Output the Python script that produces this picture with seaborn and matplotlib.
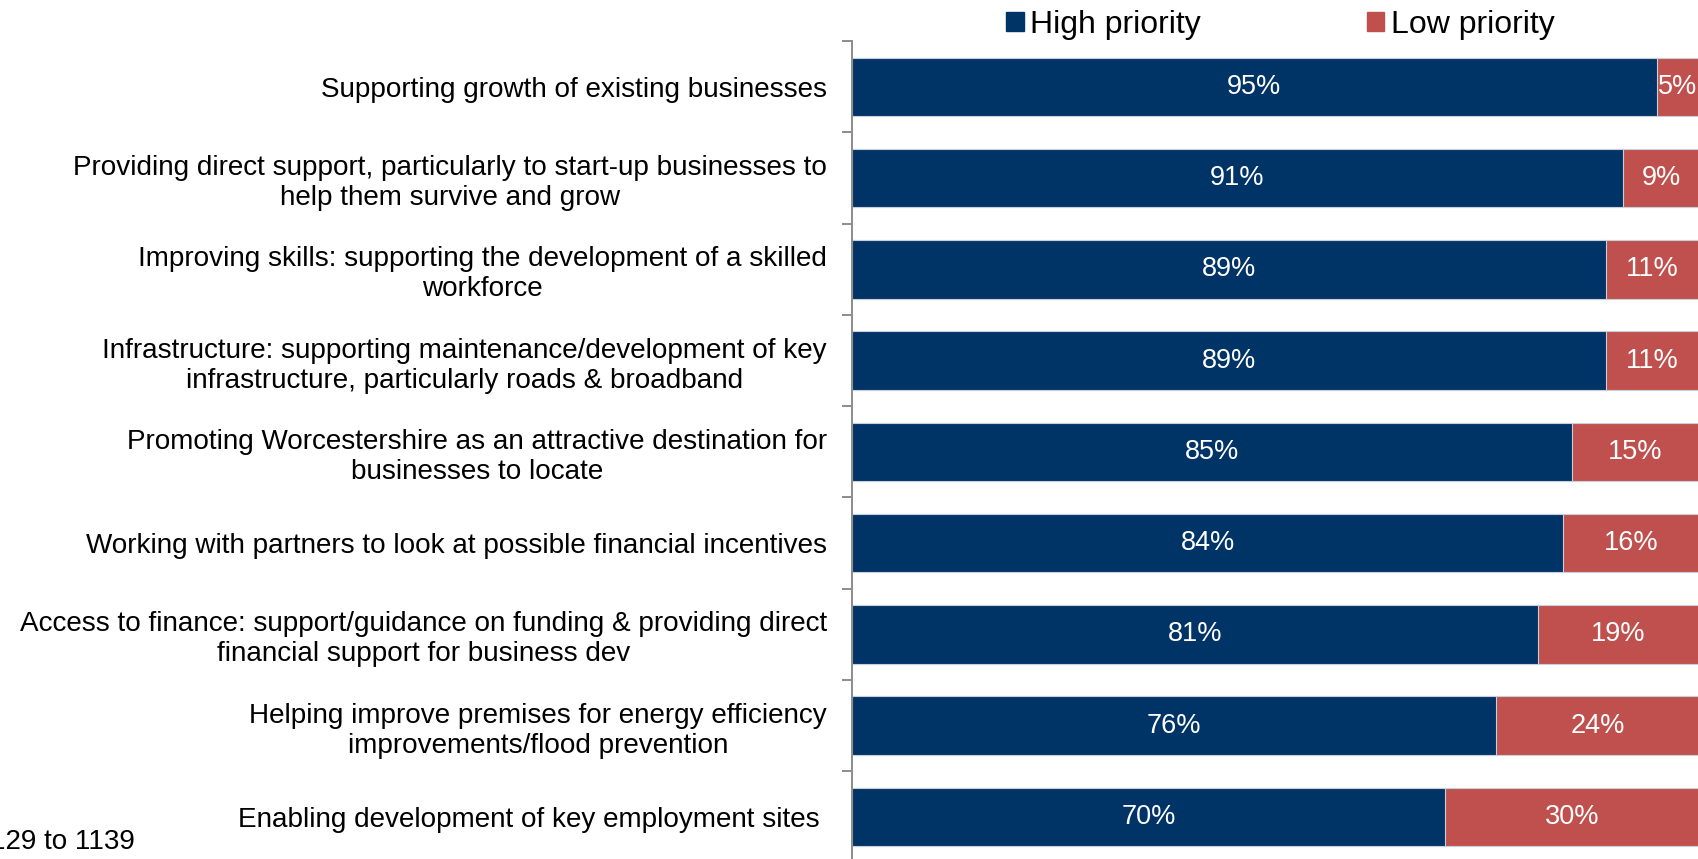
import numpy as np
import matplotlib
matplotlib.use("Agg")
import matplotlib.pyplot as plt
import seaborn as sns
import pandas as pd

categories = [
    "Supporting growth of existing businesses",
    "Providing direct support, particularly to start-up businesses to\nhelp them survive and grow",
    "Improving skills: supporting the development of a skilled\nworkforce",
    "Infrastructure: supporting maintenance/development of key\ninfrastructure, particularly roads & broadband",
    "Promoting Worcestershire as an attractive destination for\nbusinesses to locate",
    "Working with partners to look at possible financial incentives",
    "Access to finance: support/guidance on funding & providing direct\nfinancial support for business dev",
    "Helping improve premises for energy efficiency\nimprovements/flood prevention",
    "Enabling development of key employment sites ",
]
high = [95, 91, 89, 89, 85, 84, 81, 76, 70]
low = [5, 9, 11, 11, 15, 16, 19, 24, 30]
series_names = ["High priority", "Low priority"]
base_note = "Base: 1129 to 1139"

navy = "#003366"
red = "#C0504D"

sns.set_style("white")
plt.rcParams["font.family"] = ["Liberation Sans", "DejaVu Sans"]
plt.rcParams["text.color"] = "black"
plt.rcParams["ytick.labelcolor"] = "black"

df = pd.DataFrame({"Statement": categories, "High": high, "Low": low})
df["Total"] = df["High"] + df["Low"]

fig = plt.figure(figsize=(16.99, 8.59), dpi=100)
ax = fig.add_axes([0.5015, -0.004, 0.4985, 0.956])

# red total underneath, navy high on top -> stacked look
sns.barplot(data=df, x="Total", y="Statement", order=categories, color=red,
            width=0.64, saturation=1, edgecolor="#c8d0dc", linewidth=0.8, ax=ax)
sns.barplot(data=df, x="High", y="Statement", order=categories, color=navy,
            width=0.64, saturation=1, edgecolor="#c8d0dc", linewidth=0.8, ax=ax)

ax.bar_label(ax.containers[1], fmt="%d%%", label_type="center", color="white", fontsize=19.5)
for i, (h, l) in enumerate(zip(high, low)):
    ax.text(h + l / 2, i, "%d%%" % l, ha="center", va="center", color="white", fontsize=19.5)

ax.set_xlim(0, 100)
ax.set_ylim(len(categories) - 0.5, -0.5)
ax.set_xticks([])
ax.set_xlabel("")
ax.set_ylabel("")
for s in ["top", "right", "bottom"]:
    ax.spines[s].set_visible(False)
ax.spines["left"].set_color("#8c8c8c")
ax.spines["left"].set_linewidth(1.4)

ax.set_yticks(np.arange(-0.5, len(categories), 1.0), minor=True)
ax.tick_params(axis="y", which="minor", length=7, width=1.4, color="#8c8c8c", left=True)
ax.tick_params(axis="y", which="major", length=0, pad=18, labelsize=20.1, labelcolor="black")
for lbl in ax.get_yticklabels():
    lbl.set_multialignment("center")

handles = [plt.Rectangle((0, 0), 1, 1, color=navy), plt.Rectangle((0, 0), 1, 1, color=red)]
fig.legend(handles, series_names, loc="center", bbox_to_anchor=(0.7535, 0.971), ncol=2,
           frameon=False, fontsize=23, handlelength=0.55, handleheight=0.55,
           handletextpad=0.2, columnspacing=5.2)

fig.text(0.0795, 0.012, base_note, ha="right", va="baseline", fontsize=20)

fig.savefig("out.png", dpi=100)
